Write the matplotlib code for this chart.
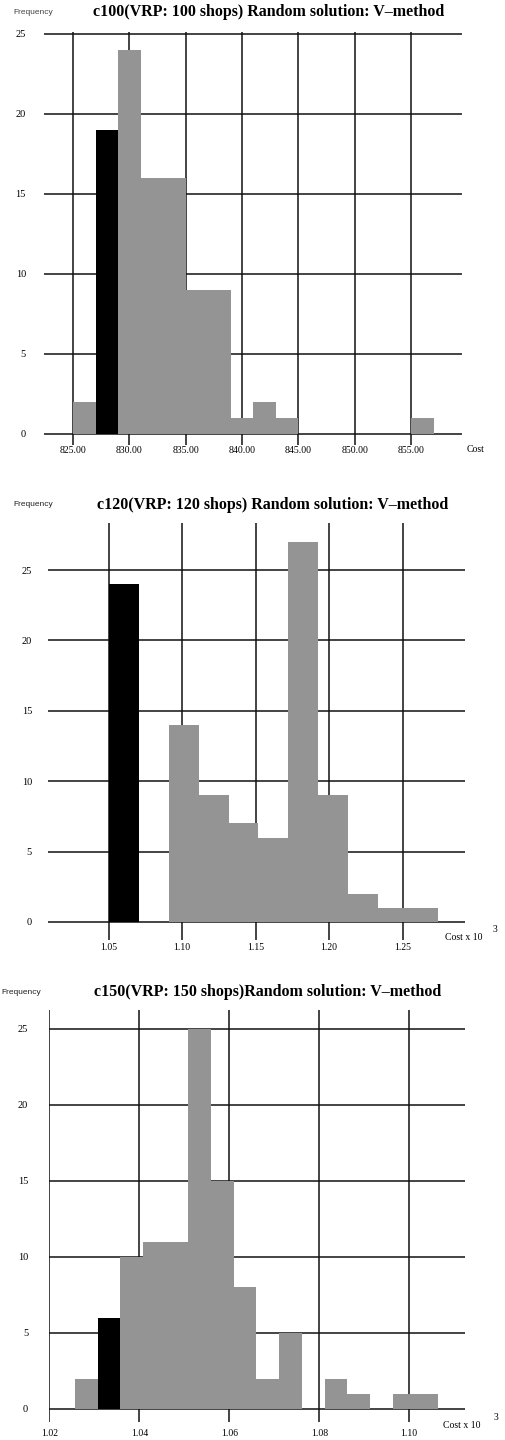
import matplotlib
matplotlib.use("Agg")
import matplotlib.pyplot as plt
import numpy as np

# ---------------- data ----------------
c100_edges = [825, 827, 829, 831, 833, 835, 837, 839, 841, 843, 845, 847, 849, 851, 853, 855, 857]
c100_counts = [2, 19, 24, 16, 16, 9, 9, 1, 2, 1, 0, 0, 0, 0, 0, 1]
c100_black = 1
c100_xticks = [825, 830, 835, 840, 845, 850, 855]
c100_xlabels = ["825.00", "830.00", "835.00", "840.00", "845.00", "850.00", "855.00"]

c120_edges = [1.0505, 1.0708, 1.0911, 1.1114, 1.1317, 1.1520, 1.1723, 1.1926, 1.2129, 1.2332, 1.2535, 1.2738]
c120_counts = [24, 0, 14, 9, 7, 6, 27, 9, 2, 1, 1]
c120_black = 0
c120_xticks = [1.05, 1.10, 1.15, 1.20, 1.25]
c120_xlabels = ["1.05", "1.10", "1.15", "1.20", "1.25"]

c150_edges = [1.0256, 1.0307, 1.0357, 1.0408, 1.0458, 1.0509, 1.0559, 1.0610, 1.0660,
              1.0711, 1.0761, 1.0812, 1.0862, 1.0913, 1.0963, 1.1014, 1.1064]
c150_counts = [2, 6, 10, 11, 11, 25, 15, 8, 2, 5, 0, 2, 1, 0, 1, 1]
c150_black = 1
c150_xticks = [1.02, 1.04, 1.06, 1.08, 1.10]
c150_xlabels = ["1.02", "1.04", "1.06", "1.08", "1.10"]

yticks = [0, 5, 10, 15, 20, 25]

titles = ["c100(VRP: 100 shops) Random solution: V\u2013method",
          "c120(VRP: 120 shops) Random solution: V\u2013method",
          "c150(VRP: 150 shops)Random solution: V\u2013method"]

# ---------------- figure ----------------
W, H = 505, 1440
fig = plt.figure(figsize=(W / 100, H / 100), dpi=100)
fig.patch.set_facecolor("white")

SERIF = "Liberation Serif"
SANS = "Liberation Sans"
GRAY = "#949494"


def add_ax(left, right, top, bottom):
    return fig.add_axes([left / W, 1 - bottom / H, (right - left) / W, (bottom - top) / H])


def draw(ax, edges, counts, black, xticks, xlabels, xlim, ylim, xpad, ypad):
    edges = np.asarray(edges)
    widths = np.diff(edges)
    colors = [("black" if i == black else GRAY) for i in range(len(counts))]
    ax.bar(edges[:-1], counts, width=widths, align="edge", color=colors,
           edgecolor="none", linewidth=0, zorder=3)
    ax.set_xlim(*xlim)
    ax.set_ylim(*ylim)
    ax.set_xticks(xticks)
    ax.set_xticklabels(xlabels, fontfamily=SERIF, fontsize=7)
    ax.set_yticks(yticks)
    ax.set_yticklabels([str(v) for v in yticks], fontfamily=SERIF, fontsize=7.5)
    ax.tick_params(axis="x", length=0, pad=xpad)
    ax.tick_params(axis="y", length=0, pad=ypad)
    for s in ax.spines.values():
        s.set_visible(False)
    ax.grid(True, color="#111111", linewidth=1.1, zorder=1)
    ax.set_axisbelow(True)


ax1 = add_ax(44, 462, 32, 445)
draw(ax1, c100_edges, c100_counts, c100_black, c100_xticks, c100_xlabels,
     (822.43, 859.52), (-0.69, 25.125), 1.0, 13)

ax2 = add_ax(48, 465, 523, 940)
draw(ax2, c120_edges, c120_counts, c120_black, c120_xticks, c120_xlabels,
     (1.0088, 1.2925), (-1.28, 28.34), 2.0, 11.5)

ax3 = add_ax(49, 465, 1010, 1422)
draw(ax3, c150_edges, c150_counts, c150_black, c150_xticks, c150_xlabels,
     (1.0199, 1.1124), (-0.86, 26.25), 5.0, 15)


def ftext(x, y, s, **kw):
    fig.text(x / W, 1 - y / H, s, **kw)


# titles
for (cx, cy), t in zip([(269, 12), (273, 505), (268, 992)], titles):
    ftext(cx, cy, t, ha="center", va="center", fontfamily=SERIF,
          fontweight="bold", fontsize=11.5)

# frequency labels
ftext(13, 13, "Frequency", ha="left", va="center", fontfamily=SANS, fontsize=6, color="#444444")
ftext(13, 505, "Frequency", ha="left", va="center", fontfamily=SANS, fontsize=6, color="#222222")
ftext(1, 993, "Frequency", ha="left", va="center", fontfamily=SANS, fontsize=6, color="#222222")

# cost labels
ftext(467, 450, "Cost", ha="left", va="center", fontfamily=SERIF, fontsize=7)
ftext(445, 938, "Cost x 10", ha="left", va="center", fontfamily=SERIF, fontsize=7)
ftext(493, 930, "3", ha="left", va="center", fontfamily=SERIF, fontsize=7)
ftext(443, 1426, "Cost x 10", ha="left", va="center", fontfamily=SERIF, fontsize=7)
ftext(494, 1418, "3", ha="left", va="center", fontfamily=SERIF, fontsize=7)

fig.savefig("out.png", dpi=100, facecolor="white")
